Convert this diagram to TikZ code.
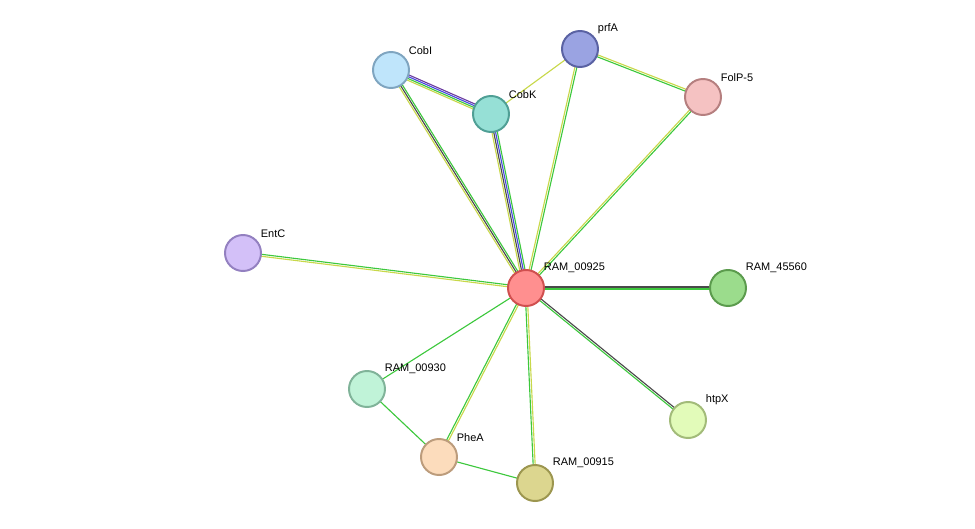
\documentclass[tikz,border=0pt]{standalone}
\usepackage{fontspec}
\setmainfont{Liberation Sans}
\usetikzlibrary{calc, backgrounds}
\definecolor{lgreen}{HTML}{3DC83D}
\definecolor{lyellow}{HTML}{C8D84A}
\definecolor{ldark}{HTML}{4A4A4A}
\definecolor{lblue}{HTML}{4848E0}
\definecolor{lpurple}{HTML}{6A3AA0}
\newcommand\link[3]{\foreach \c/\o in {#3}{\draw[\c, line width=0.8pt] ($(#1)!\o pt!90:(#2)$) -- ($(#2)!\o pt!-90:(#1)$);}}

\begin{document}
\begin{tikzpicture}[x=0.025cm, y=-0.025cm, font=\fontsize{7.8}{9}\selectfont,
    prot/.style={circle, draw, line width=1.4pt, minimum size=0.9cm, inner sep=0pt},
    lab/.style={anchor=south west, inner sep=0pt, xshift=3pt, yshift=1pt},
]
\useasboundingbox (0,0) rectangle (975,528);

\node[prot, fill={rgb,255:red,255;green,143;blue,143}, draw={rgb,255:red,208;green,79;blue,79}] (c) at (526,288) {};
\node[prot, fill={rgb,255:red,191;green,229;blue,251}, draw={rgb,255:red,127;green,165;blue,192}] (cobi) at (391,70) {};
\node[prot, fill={rgb,255:red,150;green,224;blue,214}, draw={rgb,255:red,79;green,159;blue,149}] (cobk) at (491,114) {};
\node[prot, fill={rgb,255:red,154;green,163;blue,226}, draw={rgb,255:red,90;green,98;blue,163}] (prfa) at (580,49) {};
\node[prot, fill={rgb,255:red,245;green,194;blue,194}, draw={rgb,255:red,181;green,127;blue,127}] (folp) at (703,97) {};
\node[prot, fill={rgb,255:red,211;green,192;blue,248}, draw={rgb,255:red,147;green,128;blue,192}] (entc) at (243,253) {};
\node[prot, fill={rgb,255:red,155;green,220;blue,140}, draw={rgb,255:red,91;green,155;blue,77}] (r45560) at (728,288) {};
\node[prot, fill={rgb,255:red,192;green,243;blue,216}, draw={rgb,255:red,128;green,179;blue,153}] (r00930) at (367,389) {};
\node[prot, fill={rgb,255:red,226;green,251;blue,185}, draw={rgb,255:red,162;green,187;blue,121}] (htpx) at (688,420) {};
\node[prot, fill={rgb,255:red,252;green,220;blue,188}, draw={rgb,255:red,188;green,156;blue,124}] (phea) at (439,457) {};
\node[prot, fill={rgb,255:red,220;green,214;blue,143}, draw={rgb,255:red,156;green,150;blue,79}] (r00915) at (535,483) {};

\node[lab] (lc) at (c.north east) {RAM\_00925};
\node[lab] (lcobi) at (cobi.north east) {CobI};
\node[lab] (lcobk) at (cobk.north east) {CobK};
\node[lab] (lprfa) at (prfa.north east) {prfA};
\node[lab] (lfolp) at (folp.north east) {FolP-5};
\node[lab] (lentc) at (entc.north east) {EntC};
\node[lab] (lr45560) at (r45560.north east) {RAM\_45560};
\node[lab] (lr00930) at (r00930.north east) {RAM\_00930};
\node[lab] (lhtpx) at (htpx.north east) {htpX};
\node[lab] (lphea) at (phea.north east) {PheA};
\node[lab] (lr00915) at (r00915.north east) {RAM\_00915};

\begin{scope}[on background layer]
\link{c}{cobi}{lgreen/-1.3, ldark/0, lyellow/1.3}
\link{c}{cobk}{lgreen/-1.9, lblue/-0.65, ldark/0.65, lyellow/1.9}
\link{c}{prfa}{lgreen/-0.7, lyellow/0.7}
\link{c}{folp}{lgreen/-0.7, lyellow/0.7}
\link{c}{entc}{lgreen/-0.7, lyellow/0.7}
\link{c}{r45560}{lgreen/-0.7, ldark/0.7}
\link{c}{htpx}{lgreen/-0.7, ldark/0.7}
\link{c}{r00930}{lgreen/0}
\link{c}{phea}{lgreen/-0.7, lyellow/0.7}
\link{c}{r00915}{lgreen/-0.7, lyellow/0.7}
\link{cobi}{cobk}{lyellow/-1.9, lgreen/-0.65, lblue/0.65, lpurple/1.9}
\link{cobk}{prfa}{lyellow/0}
\link{prfa}{folp}{lgreen/-0.7, lyellow/0.7}
\link{r00930}{phea}{lgreen/0}
\link{phea}{r00915}{lgreen/0}
\end{scope}
\end{tikzpicture}
\end{document}
